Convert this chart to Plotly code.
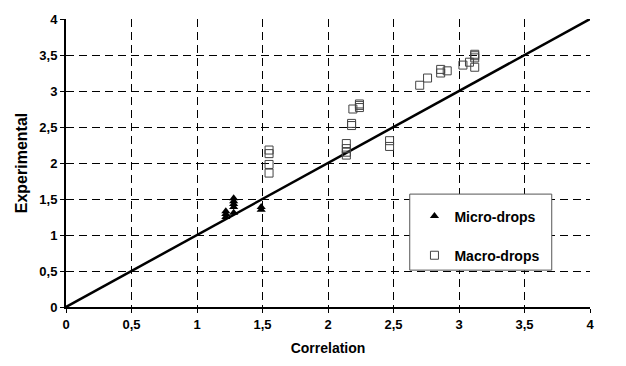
import plotly.graph_objects as go

micro_x = [1.22, 1.22, 1.22, 1.28, 1.28, 1.28, 1.28, 1.28, 1.49, 1.49]
micro_y = [1.25, 1.29, 1.33, 1.31, 1.39, 1.43, 1.47, 1.51, 1.35, 1.39]

macro_x = [1.55, 1.55, 1.55, 1.55, 2.14, 2.14, 2.14, 2.14, 2.18, 2.18, 2.19,
           2.24, 2.24, 2.24, 2.47, 2.47, 2.70, 2.76, 2.86, 2.86, 2.91,
           3.03, 3.08, 3.12, 3.12, 3.12, 3.12]
macro_y = [1.86, 1.98, 2.13, 2.18, 2.11, 2.15, 2.20, 2.27, 2.52, 2.55, 2.75,
           2.77, 2.80, 2.82, 2.23, 2.31, 3.08, 3.18, 3.25, 3.30, 3.28,
           3.36, 3.40, 3.33, 3.46, 3.49, 3.51]

line_x = [0, 4]
line_y = [0, 4]

ticks = [0, 0.5, 1, 1.5, 2, 2.5, 3, 3.5, 4]
tick_labels = ["0", "0,5", "1", "1,5", "2", "2,5", "3", "3,5", "4"]

fig = go.Figure()
fig.add_trace(go.Scatter(x=line_x, y=line_y, mode="lines",
                         line=dict(color="black", width=2.5), showlegend=False, hoverinfo="skip"))
fig.add_trace(go.Scatter(x=micro_x, y=micro_y, mode="markers", name="Micro-drops",
                         legendgroup="a",
                         marker=dict(symbol="triangle-up", size=8, color="black")))
fig.add_trace(go.Scatter(x=macro_x, y=macro_y, mode="markers", name="Macro-drops",
                         legendgroup="b",
                         marker=dict(symbol="square", size=8, color="rgba(255,255,255,0)",
                                     line=dict(color="#444", width=1))))

fig.add_shape(type="rect", xref="paper", yref="paper", x0=0.656, x1=0.927, y0=0.128, y1=0.392,
              line=dict(color="#555", width=1), fillcolor="white", layer="above")

FAM = "Arial, Liberation Sans"
tfont = dict(family=FAM, size=13, color="black")

axis_common = dict(range=[0, 4], tickvals=ticks, ticktext=[f"<b>{t}</b>" for t in tick_labels],
                   showgrid=True, gridcolor="black",
                   griddash="8px,5px", gridwidth=1, showline=True, linecolor="black", linewidth=2,
                   ticks="outside", ticklen=4, tickcolor="black", zeroline=False,
                   tickfont=tfont)

fig.update_layout(
    width=626, height=366,
    margin=dict(l=66, r=36, t=12, b=58),
    plot_bgcolor="white", paper_bgcolor="white",
    separators=",.",
    font=dict(family=FAM, color="black"),
    xaxis=dict(**axis_common, title=dict(text="Correlation", standoff=13,
               font=dict(size=14, weight=700, family=FAM))),
    yaxis=dict(**axis_common, title=dict(text="Experimental", standoff=8,
               font=dict(size=16, weight=700, family=FAM))),
    legend=dict(x=0.665, y=0.37, xanchor="left", yanchor="top", bgcolor="rgba(0,0,0,0)",
                font=dict(size=14, weight=700, family=FAM),
                traceorder="grouped", tracegroupgap=18),
)

fig.write_html("out.html")
